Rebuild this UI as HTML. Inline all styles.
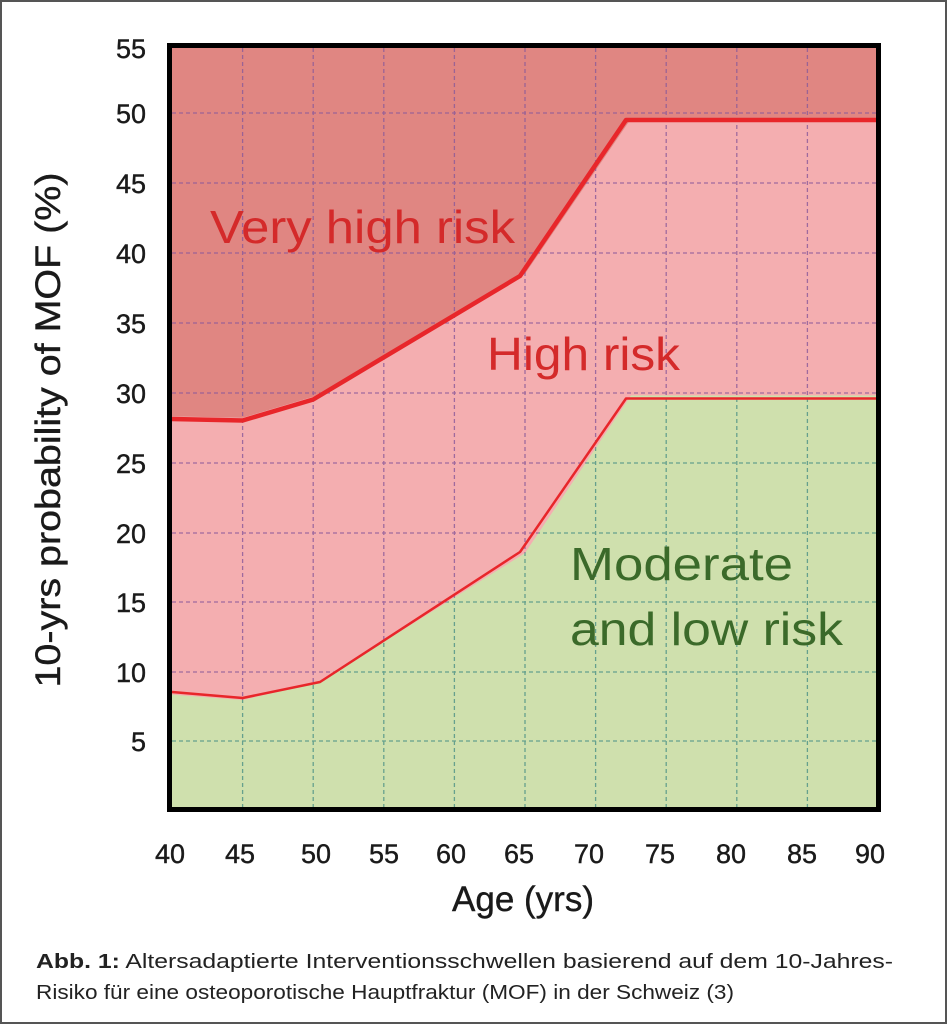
<!DOCTYPE html>
<html><head><meta charset="utf-8"><style>
html,body{margin:0;padding:0;background:#fff}
svg{display:block}
</style></head><body>
<svg width="947" height="1024" viewBox="0 0 947 1024" xmlns="http://www.w3.org/2000/svg" font-family="Liberation Sans, sans-serif">
<rect x="1" y="1" width="945" height="1022" fill="#fff" stroke="#555" stroke-width="2"/>
<defs>
<clipPath id="green"><polygon points="172,694.6 242.6,700 320,682 525,553 631,395.4 878,395.4 878,812 172,812"/></clipPath>
<clipPath id="notgreen"><polygon points="172,48 878,48 878,395.4 631,395.4 525,553 320,682 242.6,700 172,694.6"/></clipPath>
</defs>
<rect x="172" y="48" width="706" height="764" fill="#e08682"/>
<polygon points="172,416.4 242.6,417.8 313.2,396.8 525,273.8 631,118.6 878,118.6 878,812 172,812" fill="#f4aeb0"/>
<polygon points="172,694.6 242.6,700 320,682 525,553 631,395.4 878,395.4 878,812 172,812" fill="#cfe0ad"/>
<g stroke-dasharray="4,3" stroke-width="1.3" fill="none">
<g clip-path="url(#notgreen)" stroke="#8a5a9a" opacity="0.8">
<path d="M242.6,48V812M313.2,48V812M383.8,48V812M454.4,48V812M525,48V812M595.6,48V812M666.2,48V812M736.8,48V812M807.4,48V812"/>
<path d="M172,113H878M172,183H878M172,253H878M172,323H878M172,393H878M172,463H878M172,533H878M172,602H878M172,672H878M172,741H878"/>
</g>
<g clip-path="url(#green)" stroke="#5a9a8a" opacity="0.9">
<path d="M242.6,48V812M313.2,48V812M383.8,48V812M454.4,48V812M525,48V812M595.6,48V812M666.2,48V812M736.8,48V812M807.4,48V812"/>
<path d="M172,113H878M172,183H878M172,253H878M172,323H878M172,393H878M172,463H878M172,533H878M172,602H878M172,672H878M172,741H878"/>
</g>
</g>
<polyline points="172,419 242.6,420.5 313.2,399.5 520,276 626,120 878,120" fill="none" stroke="#e8262a" stroke-width="4.5" stroke-linejoin="round"/>
<polyline points="172,692 242.6,698 320,682 520,552 626,398.5 878,398.5" fill="none" stroke="#e8262a" stroke-width="2.5" stroke-linejoin="round"/>
<rect x="169.5" y="45.5" width="709" height="764" fill="none" stroke="#000" stroke-width="5"/>
<text x="210" y="243" font-size="46" fill="#d42a2a" textLength="305" lengthAdjust="spacingAndGlyphs">Very high risk</text>
<text x="487" y="370" font-size="46" fill="#d42a2a" textLength="193" lengthAdjust="spacingAndGlyphs">High risk</text>
<text x="570" y="580" font-size="46" fill="#3b6a2a" textLength="223" lengthAdjust="spacingAndGlyphs">Moderate</text>
<text x="570" y="645" font-size="46" fill="#3b6a2a" textLength="273" lengthAdjust="spacingAndGlyphs">and low risk</text>
<g font-size="27" fill="#1a1a1a" text-anchor="end" stroke="#1a1a1a" stroke-width="0.4">
<text x="146" y="58">55</text><text x="146" y="123">50</text><text x="146" y="193">45</text>
<text x="146" y="263">40</text><text x="146" y="333">35</text><text x="146" y="403">30</text>
<text x="146" y="473">25</text><text x="146" y="543">20</text><text x="146" y="612">15</text>
<text x="146" y="682">10</text><text x="146" y="751">5</text>
</g>
<g font-size="27" fill="#1a1a1a" text-anchor="middle" stroke="#1a1a1a" stroke-width="0.4">
<text x="170" y="863">40</text><text x="240" y="863">45</text><text x="316" y="863">50</text>
<text x="384" y="863">55</text><text x="451" y="863">60</text><text x="519" y="863">65</text>
<text x="589" y="863">70</text><text x="660" y="863">75</text><text x="731" y="863">80</text>
<text x="802" y="863">85</text><text x="870" y="863">90</text>
</g>
<text x="523" y="911" font-size="35" fill="#1a1a1a" text-anchor="middle" stroke="#1a1a1a" stroke-width="0.4">Age (yrs)</text>
<text transform="translate(60,430) rotate(-90)" font-size="35" fill="#1a1a1a" stroke="#1a1a1a" stroke-width="0.4" text-anchor="middle" textLength="515" lengthAdjust="spacingAndGlyphs">10-yrs probability of MOF (%)</text>
<text x="36" y="968" font-size="20" fill="#222" textLength="857" lengthAdjust="spacingAndGlyphs"><tspan font-weight="bold">Abb. 1:</tspan> Altersadaptierte Interventionsschwellen basierend auf dem 10-Jahres-</text>
<text x="36" y="999" font-size="20" fill="#222" textLength="698" lengthAdjust="spacingAndGlyphs">Risiko für eine osteoporotische Hauptfraktur (MOF) in der Schweiz (3)</text>
</svg>
</body></html>
